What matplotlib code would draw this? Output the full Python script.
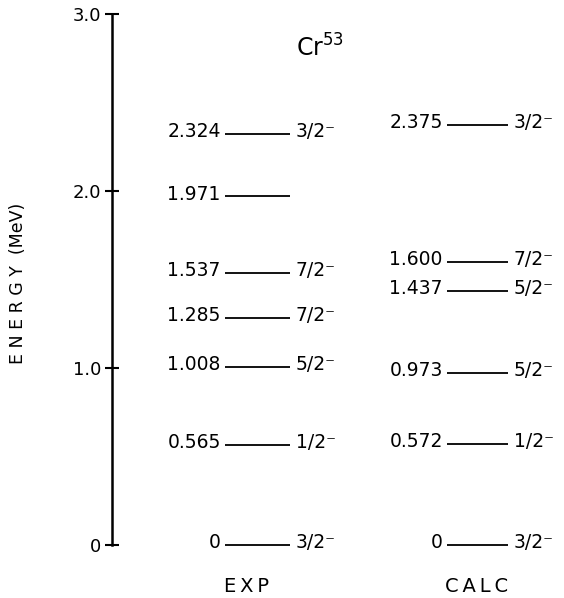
import matplotlib
matplotlib.use("Agg")
import matplotlib.pyplot as plt

# ---- data ----
exp_energies = [0.0, 0.565, 1.008, 1.285, 1.537, 1.971, 2.324]
exp_labels = ["0", "0.565", "1.008", "1.285", "1.537", "1.971", "2.324"]
exp_spins = ["3/2\u207b", "1/2\u207b", "5/2\u207b", "7/2\u207b", "7/2\u207b", "", "3/2\u207b"]

calc_energies = [0.0, 0.572, 0.973, 1.437, 1.600, 2.375]
calc_labels = ["0", "0.572", "0.973", "1.437", "1.600", "2.375"]
calc_spins = ["3/2\u207b", "1/2\u207b", "5/2\u207b", "5/2\u207b", "7/2\u207b", "3/2\u207b"]

yticks = [0, 1, 2, 3]
ytick_labels = ["0", "1.0", "2.0", "3.0"]
column_names = ["E\u2009X\u2009P", "C\u2009A\u2009L\u2009C"]
nucleus = "Cr$^{53}$"

W, H = 564, 598
fig = plt.figure(figsize=(W / 100, H / 100), dpi=100)
ax_left, ax_bottom, ax_top = 112, 545, 14
ax = fig.add_axes([ax_left / W, (H - ax_bottom) / H, (W - ax_left) / W, (ax_bottom - ax_top) / H])
ax.set_xlim(ax_left, W)
ax.set_ylim(0, 3)

for s in ["top", "right", "bottom"]:
    ax.spines[s].set_visible(False)
ax.spines["left"].set_linewidth(1.8)
ax.set_xticks([])
ax.set_yticks(yticks)
ax.set_yticklabels(ytick_labels, fontsize=13)
ax.tick_params(axis="y", direction="inout", length=10, width=1.5, pad=3)

fs = 13.5
columns = [
    (exp_energies, exp_labels, exp_spins, 225, 290),
    (calc_energies, calc_labels, calc_spins, 447, 508),
]
for energies, labels, spins, x0, x1 in columns:
    for e, lab, sp in zip(energies, labels, spins):
        ax.plot([x0, x1], [e, e], color="black", lw=1.3, solid_capstyle="butt", clip_on=False)
        ax.annotate(lab, xy=(x0, e), xytext=(-3, -2.5), textcoords="offset points",
                    ha="right", va="baseline", fontsize=fs)
        if sp:
            ax.annotate(sp, xy=(x1, e), xytext=(4, -2.5), textcoords="offset points",
                        ha="left", va="baseline", fontsize=fs)

ax.text(320, 2.81, nucleus, ha="center", va="center", fontsize=17)

fig.text(247 / W, 1 - 587 / H, column_names[0], ha="center", va="center", fontsize=14)
fig.text(477 / W, 1 - 587 / H, column_names[1], ha="center", va="center", fontsize=14)
fig.text(18 / W, 1 - 283 / H, "E N E R G Y  (MeV)", rotation=90, ha="center", va="center", fontsize=12.5)

fig.savefig("out.png", dpi=100)
